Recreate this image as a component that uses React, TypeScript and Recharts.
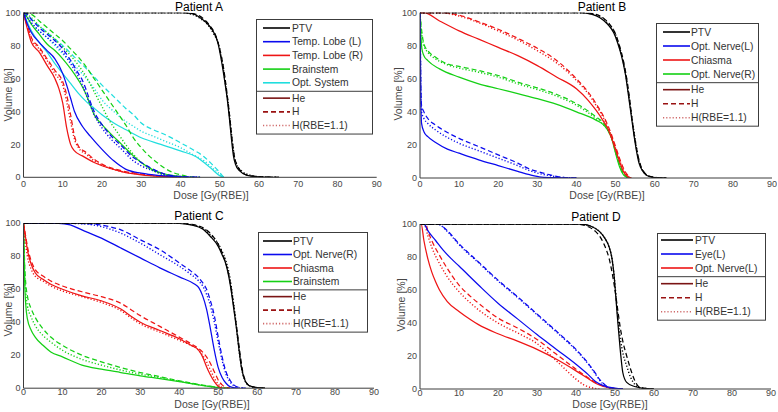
import React from "react";
import { LineChart, Line, XAxis, YAxis } from "recharts";

type Pt = [number, number];

const doseTicks = [0, 10, 20, 30, 40, 50, 60, 70, 80, 90];
const volTicks = [0, 20, 40, 60, 80, 100];
const modalities = ["He", "H", "H(RBE=1.1)"];

// ---- Patient A
const A_ptv_he: Pt[] = [[0,100],[40,100],[43,99.5],[45,97],[47,93],[48.5,88],[49.5,82],[50.5,70],[51.3,58],[52,46],[52.5,35],[53,23],[53.5,13],[54,8],[55,4],[57,1.2],[60,0.3],[65,0]];
const A_ptv_h: Pt[] = [[0,100],[41,100],[44,99],[46,96],[47.5,92],[49,86],[50,78],[51,66],[51.7,54],[52.3,42],[52.8,31],[53.3,20],[53.8,12],[54.5,7],[55.5,3.5],[57.5,1],[61,0.3],[65,0]];
const A_ptv_rbe: Pt[] = [[0,100],[40,100],[43,99],[45,96.5],[47,92.5],[48.5,87],[49.8,80],[50.8,68],[51.5,56],[52.2,44],[52.7,33],[53.2,22],[53.7,13],[54.3,8],[55.5,4],[57.5,1.5],[60,0.4],[65,0]];
const A_tll_he: Pt[] = [[0,100],[1,93],[2,88],[4,82],[6,77],[8,72],[10,63],[11,56],[12,48],[13,40],[15,31],[17,25],[20,17],[23,10],[26,5],[30,2.5],[35,1],[40,0.3],[45,0]];
const A_tll_h: Pt[] = [[0,100],[1,99],[2,96],[4,91],[6,87],[8,83],[10,78],[12,71],[14,63],[15,59],[16,53],[17,46],[18,40],[20,32],[22,26],[25,19],[28,12],[30,9],[33,5],[36,2],[40,0.5],[45,0]];
const A_tll_rbe: Pt[] = [[0,100],[1,97],[2,94],[4,89],[6,85],[8,81],[10,76],[12,69],[14,61],[15,56],[16,50],[17,44],[18,38],[20,30],[22,24],[25,17],[28,10],[30,7],[33,4],[36,1.5],[40,0.3],[45,0]];
const A_tlr_he: Pt[] = [[0,100],[1,90],[2,82],[4,76],[6,68],[8,60],[9,54],[10,45],[11,30],[12,20],[13,16],[15,13],[18,9],[20,7],[25,3.5],[30,1.5],[35,0.5],[40,0]];
const A_tlr_h: Pt[] = [[0,100],[1,92],[2,85],[4,79],[6,72],[8,65],[10,58],[11,50],[12,38],[13,25],[14,19],[16,15],[18,11],[20,8],[25,4],[30,2],[35,0.8],[40,0]];
const A_tlr_rbe: Pt[] = [[0,100],[1,91],[2,84],[4,78],[6,71],[8,63],[10,56],[11,46],[12,34],[13,23],[14,18],[16,14],[18,10],[20,7.5],[25,3.5],[30,1.8],[35,0.6],[40,0]];
const A_bs_he: Pt[] = [[0,100],[1,97],[2,93],[4,87],[6,81],[8,77],[10,72],[12,66],[14,59],[15,55],[16,50],[17,44],[18,38],[20,32],[22,27],[25,20],[28,13],[30,9],[33,4.5],[36,2],[40,0.5],[42,0]];
const A_bs_h: Pt[] = [[0,100],[2,99],[4,95],[6,91],[8,87],[10,83],[12,78],[14,73],[16,67],[18,60],[20,53],[22,46],[24,39],[26,32],[28,24],[30,18],[32,13],[34,9],[36,5.5],[38,3],[40,1.5],[42,0.5],[45,0]];
const A_bs_rbe: Pt[] = [[0,100],[2,97],[4,92],[6,88],[8,84],[10,79],[12,74],[14,68],[16,61],[18,52],[20,43],[22,34],[24,27],[26,20],[28,14],[30,9],[33,4],[36,1.5],[40,0.3],[42,0]];
const A_os_he: Pt[] = [[0,100],[1,94],[2,89],[4,82],[6,76],[8,69],[10,63],[12,57],[14,51],[16,46],[18,42],[20,38],[23,33],[26,29],[30,24],[35,20],[40,16],[44,12.5],[46,9],[48,5],[50,1],[51,0]];
const A_os_h: Pt[] = [[0,100],[1,98],[3,94],[5,90],[8,84],[10,80],[13,73],[16,66],[18,61],[20,56],[23,49],[26,42],[28,38],[30,33],[33,29],[36,26],[40,21],[43,17],[46,12.5],[48,8],[50,3],[51,0]];
const A_os_rbe: Pt[] = [[0,100],[1,96],[3,91],[5,87],[8,80],[10,75],[13,68],[16,60],[18,54],[20,47],[23,40],[26,34],[28,31],[30,28],[33,25],[36,22],[40,18],[43,14],[46,10],[48,6],[50,2],[51,0]];

// ---- Patient B
const B_ptv_he: Pt[] = [[0,100],[41,100],[44,99],[46,97],[48,93],[49.5,88],[50.5,82],[51.5,74],[52.5,63],[53.3,50],[54,38],[54.7,26],[55.3,17],[56,9],[57,4],[58,1.5],[60,0.3],[63,0]];
const B_ptv_h: Pt[] = [[0,100],[42,100],[45,99],[47,96.5],[48.5,93],[50,87],[51,80],[52,71],[53,58],[53.7,46],[54.3,34],[55,23],[55.7,14],[56.5,7],[57.5,3],[58.5,1.2],[60.5,0.3],[63,0]];
const B_ptv_rbe: Pt[] = [[0,100],[41,100],[44.5,99],[46.5,97],[48,93.5],[49.8,88],[50.8,81],[51.8,72],[52.8,60],[53.5,48],[54.2,36],[54.9,25],[55.5,16],[56.2,8.5],[57.2,3.5],[58.3,1.3],[60,0.3],[63,0]];
const B_onl_he: Pt[] = [[0,100],[0.1,75],[0.2,50],[0.4,33],[1,28],[2,25],[4,21.5],[7,17.5],[10,15],[15,11],[20,7.5],[25,4],[28,2],[31,0.6],[35,0.2],[40,0]];
const B_onl_h: Pt[] = [[0,100],[0.1,80],[0.2,55],[0.4,44],[1,40],[2,36],[4,32],[7,27.5],[10,24],[15,19],[20,14],[25,9],[28,5.5],[30,4],[33,2],[36,0.5],[40,0]];
const B_onl_rbe: Pt[] = [[0,100],[0.1,78],[0.2,52],[0.4,40],[1,36],[2,33],[4,29],[7,24.5],[10,21],[15,16.5],[20,12],[25,7.5],[28,4.5],[30,3],[33,1.5],[36,0.4],[40,0]];
const B_chi_he: Pt[] = [[0,100],[1,100],[5,95],[10,89],[15,84],[20,79],[25,74],[30,68],[35,61],[40,54],[43,47],[45,41],[47,34],[48,30],[49,24],[50,17],[51,10],[52,4],[53,1],[54,0]];
const B_chi_h: Pt[] = [[0,100],[6,100],[10,98.5],[15,94.5],[20,90],[25,84.5],[30,78.5],[35,71],[40,60],[43,52],[45,45],[47,37],[48,32],[49,26],[50,19],[51,12],[52,6],[53,2],[54,0]];
const B_chi_rbe: Pt[] = [[0,100],[5,100],[10,98],[15,94],[20,89],[25,83.5],[30,77],[35,69.5],[40,59],[43,51],[45,44],[47,36],[48,31],[49,25],[50,18],[51,11],[52,5],[53,1.5],[54,0]];
const B_onr_he: Pt[] = [[0,100],[0.2,88],[0.5,78],[1,74],[2,71],[5,66],[10,61],[15,57],[20,54],[25,51],[30,48],[35,44.5],[40,40],[45,35],[47,32],[48,29],[49,24],[50,15],[51,7],[52,2],[53,0.3],[54,0]];
const B_onr_h: Pt[] = [[0,100],[0.3,92],[0.6,86],[1,81],[2,77],[4,73],[7,69],[10,67.5],[15,65],[20,62],[25,58],[30,54.5],[35,50.5],[40,45],[45,37],[47,33],[48,29.5],[49,24],[50,16],[51,8.5],[52,3],[53,0.5],[54,0]];
const B_onr_rbe: Pt[] = [[0,100],[0.3,90],[0.6,84],[1,80],[2,76],[4,72],[7,68.5],[10,66.5],[15,64],[20,61],[25,57],[30,53.5],[35,49.5],[40,44],[45,36],[47,32],[48,29],[49,24],[50,16],[51,8],[52,2.5],[53,0.5],[54,0]];

// ---- Patient C
const C_ptv_he: Pt[] = [[0,100],[40,100],[43,99],[46,96.5],[48,92],[50,86],[51,81],[52,75],[53,64],[54,48],[54.7,36],[55.3,24],[56,12],[57,4],[58,1.5],[60,0.4],[62,0]];
const C_ptv_h: Pt[] = [[0,100],[41,100],[44,99],[47,96],[49,91],[50.5,85],[51.5,79],[52.5,71],[53.5,58],[54.3,44],[55,32],[55.6,21],[56.3,10],[57.2,3.5],[58.2,1.2],[60,0.3],[62,0]];
const C_ptv_rbe: Pt[] = [[0,100],[40,100],[43,99.2],[46,97],[48,93],[50,87.5],[51,83],[52,77],[53,67],[53.8,54],[54.5,41],[55.1,28],[55.8,15],[56.7,5.5],[57.7,2],[59.5,0.5],[62,0]];
const C_onr_he: Pt[] = [[0,100],[9,100],[12,99],[15,96],[20,91],[25,85],[30,79],[35,73],[40,67.5],[44,63],[45,61],[46,56],[47,48],[48,36],[49,23],[50,12.5],[51,6.5],[52,3],[53,1],[55,0]];
const C_onr_h: Pt[] = [[0,100],[12,100],[18,99.5],[22,98],[25,96],[30,90],[35,84],[40,76],[43,71],[45,67],[46,64],[47,60],[48,53],[49,44],[50,31],[51,19],[52,10],[53,5],[54,2],[55,0.7],[57,0]];
const C_onr_rbe: Pt[] = [[0,100],[11,100],[16,99.5],[20,98],[25,94],[30,88],[35,81],[40,74],[43,69],[45,65],[46,62],[47,57],[48,50],[49,40],[50,28],[51,17],[52,8.5],[53,4],[54,1.5],[55,0.5],[57,0]];
const C_chi_he: Pt[] = [[0,100],[0.5,92],[1,84],[2,75],[3,70],[5,66],[7,63],[10,60],[15,56],[20,53],[25,48],[28,43],[30,40],[35,35],[40,30],[43,26],[45,23],[46,19],[47,13],[48,8],[49,4],[50,1.2],[51,0]];
const C_chi_h: Pt[] = [[0,100],[0.5,93],[1,86],[2,77],[3,72],[5,68],[7,65],[10,62],[15,58.5],[20,55.5],[25,51.5],[28,47],[30,44],[35,37.5],[40,31],[43,27],[45,24],[47,19],[48,15],[49,10],[50,5],[51,2],[52,0.5],[53,0]];
const C_chi_rbe: Pt[] = [[0,100],[0.5,88],[1,80],[2,72],[3,68],[5,65],[7,62],[10,59],[15,55.5],[20,52],[25,47],[28,42],[30,39],[35,34],[40,29],[43,26],[45,23],[46,20],[47,16],[48,11],[49,6],[50,2.5],[51,0.5],[52,0]];
const C_bs_he: Pt[] = [[0,100],[0.1,90],[0.3,65],[0.6,50],[1,42],[2,35],[3,31],[5,26],[7,22],[10,19],[15,14],[20,11.5],[25,9.5],[30,7.5],[35,5.8],[40,4],[45,2],[48,1],[50,0.3],[52,0]];
const C_bs_h: Pt[] = [[0,100],[0.1,92],[0.3,75],[0.6,63],[1,56],[2,48],[3,43],[5,36],[7,31],[10,26],[15,20],[20,16],[25,12.5],[30,9.5],[35,7],[40,4.5],[45,2.3],[48,1.2],[50,0.5],[53,0]];
const C_bs_rbe: Pt[] = [[0,100],[0.1,91],[0.3,70],[0.6,57],[1,50],[2,43],[3,38],[5,32],[7,28],[10,23],[15,17.5],[20,14],[25,11],[30,8.5],[35,6.5],[40,4.2],[45,2.1],[48,1],[50,0.4],[53,0]];

// ---- Patient D
const D_ptv_he: Pt[] = [[0,100],[41,100],[44,98.5],[46,95.5],[47.5,91],[48.5,86],[49.3,78],[49.8,68],[50.2,56],[50.6,44],[51,33],[51.5,20],[52,10],[53,4],[55,1.5],[57,0.5],[60,0]];
const D_ptv_h: Pt[] = [[0,100],[40,100],[43,98.5],[45,95.5],[46.5,91],[47.5,86],[48.5,79],[49.3,70],[50,60],[50.7,48],[51.3,38],[52,29],[53,20],[54,12],[55,5.5],[56,1.6],[57,0.5],[60,0]];
const D_ptv_rbe: Pt[] = [[0,100],[41,100],[44,98.5],[46,95.5],[47.5,91],[48.5,86],[49.3,78],[49.8,68],[50.3,55],[50.8,42],[51.4,30],[52,22],[53,14],[54,7],[55,3],[56,1],[58,0.3],[60,0]];
const D_eye_he: Pt[] = [[0,100],[1,100],[2,96],[4,90],[6,84],[8,79],[10,74.5],[15,63],[20,52],[25,42.5],[30,33],[35,24],[40,15],[43,9],[45,4.5],[47,2],[50,0.5],[52,0]];
const D_eye_h: Pt[] = [[0,100],[4.5,100],[7,96],[10,88],[15,77],[20,66],[25,56],[30,45.5],[35,35],[40,24],[43,16],[45,9.5],[46,6],[47,3.5],[48,1.5],[50,0.3],[52,0]];
const D_eye_rbe: Pt[] = [[0,100],[4.5,100],[7,95.5],[10,87.5],[15,76.5],[20,65.5],[25,55.5],[30,45],[35,34.5],[40,23.5],[43,15.5],[45,9],[46,5.5],[47,3],[48,1.2],[50,0.2],[52,0]];
const D_onl_he: Pt[] = [[0,100],[0.3,100],[1,90],[2,79],[3,71],[4,65],[5,60],[7,53],[10,47],[13,42],[15,39],[20,33.5],[25,29],[30,24],[35,18],[40,11],[43,6.5],[45,3.5],[47,1.5],[50,0.3],[52,0]];
const D_onl_h: Pt[] = [[0,100],[1.5,100],[2,96],[3,90],[5,81],[7,73],[10,63],[13,56],[15,52],[20,43],[25,37],[30,30],[35,21],[40,12],[43,7],[45,4],[47,1.8],[50,0.3],[52,0]];
const D_onl_rbe: Pt[] = [[0,100],[1,100],[2,93],[3,86],[5,76],[7,68],[10,59],[13,52],[15,48],[20,40],[25,34],[30,27.5],[35,17],[40,6],[42,2.5],[44,0.8],[46,0]];

const BLACK = "#000000";
const BLUE = "#0a0aee";
const RED = "#ee1515";
const GREEN = "#15d015";
const CYAN = "#20dede";
const BOX = "#3c3c3c";
const TXT = "#474747";
const DASH = [undefined, "5 3", "1.2 2"];
const MOD_COLORS = ["#7a1414", "#9a1212", "#d06a6a"];

type Struct = { name: string; color: string; curves: Pt[][] };
type PanelDef = {
  title: string;
  left: number;
  top: number;
  margin: { top: number; right: number; bottom: number; left: number };
  tickGap: number;
  structs: Struct[];
  titleX: number;
  titleY: number;
  volX: number;
  volY: number;
  doseX: number;
  doseY: number;
  legend: { x: number; y: number; w: number; rh: number; pad: number; lx0: number; lx1: number; tx: number };
};

const panels: PanelDef[] = [
  {
    title: "Patient A", left: 0, top: 0,
    margin: { top: 12.7, right: 12.3, bottom: 8.7, left: 3.5 }, tickGap: 3,
    structs: [
      { name: "PTV", color: BLACK, curves: [A_ptv_he, A_ptv_h, A_ptv_rbe] },
      { name: "Temp. Lobe (L)", color: BLUE, curves: [A_tll_he, A_tll_h, A_tll_rbe] },
      { name: "Temp. Lobe (R)", color: RED, curves: [A_tlr_he, A_tlr_h, A_tlr_rbe] },
      { name: "Brainstem", color: GREEN, curves: [A_bs_he, A_bs_h, A_bs_rbe] },
      { name: "Opt. System", color: CYAN, curves: [A_os_he, A_os_h, A_os_rbe] },
    ],
    titleX: 199, titleY: 11, volX: 8, volY: 95, doseX: 211, doseY: 199,
    legend: { x: 256, y: 19, w: 116, rh: 13.7, pad: 9, lx0: 7, lx1: 34, tx: 36 },
  },
  {
    title: "Patient B", left: 388, top: 0,
    margin: { top: 12.7, right: 5, bottom: 8, left: 12 }, tickGap: 3,
    structs: [
      { name: "PTV", color: BLACK, curves: [B_ptv_he, B_ptv_h, B_ptv_rbe] },
      { name: "Opt. Nerve(L)", color: BLUE, curves: [B_onl_he, B_onl_h, B_onl_rbe] },
      { name: "Chiasma", color: RED, curves: [B_chi_he, B_chi_h, B_chi_rbe] },
      { name: "Opt. Nerve(R)", color: GREEN, curves: [B_onr_he, B_onr_h, B_onr_rbe] },
    ],
    titleX: 214, titleY: 11, volX: 10, volY: 94, doseX: 219, doseY: 199,
    legend: { x: 268, y: 23, w: 102, rh: 14, pad: 9, lx0: 7, lx1: 34, tx: 35 },
  },
  {
    title: "Patient C", left: 0, top: 206,
    margin: { top: 17.3, right: 15, bottom: 3.8, left: 3.5 }, tickGap: 0.5,
    structs: [
      { name: "PTV", color: BLACK, curves: [C_ptv_he, C_ptv_h, C_ptv_rbe] },
      { name: "Opt. Nerve(R)", color: BLUE, curves: [C_onr_he, C_onr_h, C_onr_rbe] },
      { name: "Chiasma", color: RED, curves: [C_chi_he, C_chi_h, C_chi_rbe] },
      { name: "Brainstem", color: GREEN, curves: [C_bs_he, C_bs_h, C_bs_rbe] },
    ],
    titleX: 199, titleY: 13.5, volX: 8, volY: 104, doseX: 212, doseY: 201.5,
    legend: { x: 258, y: 26, w: 109, rh: 13.5, pad: 9, lx0: 5, lx1: 34, tx: 35 },
  },
  {
    title: "Patient D", left: 388, top: 206,
    margin: { top: 18, right: 6, bottom: 3, left: 12 }, tickGap: 0.5,
    structs: [
      { name: "PTV", color: BLACK, curves: [D_ptv_he, D_ptv_h, D_ptv_rbe] },
      { name: "Eye(L)", color: BLUE, curves: [D_eye_he, D_eye_h, D_eye_rbe] },
      { name: "Opt. Nerve(L)", color: RED, curves: [D_onl_he, D_onl_h, D_onl_rbe] },
    ],
    titleX: 208, titleY: 14.5, volX: 13, volY: 99, doseX: 222, doseY: 202,
    legend: { x: 269, y: 27, w: 108, rh: 14, pad: 7, lx0: 4, lx1: 36, tx: 38 },
  },
];

const toRows = (pts: Pt[]) => pts.map(([d, v]) => ({ d, v }));

const FONT = "'Liberation Sans', Arial, Helvetica, sans-serif";
const W = 389;
const H = 206;

function Legend({ p }: { p: PanelDef }) {
  const L = p.legend;
  const n = p.structs.length;
  const divY = L.pad + (n - 1) * L.rh + L.rh * 0.62;
  const g2 = divY + L.rh * 0.5;
  const hgt = g2 + 2 * L.rh + 8;
  return (
    <g transform={`translate(${L.x},${L.y})`}>
      <rect x={0.5} y={0.5} width={L.w} height={hgt} fill="#fff" stroke={BOX} strokeWidth={1} />
      {p.structs.map((s, i) => {
        const y = L.pad + i * L.rh;
        return (
          <g key={s.name}>
            <line x1={L.lx0} x2={L.lx1} y1={y} y2={y} stroke={s.color} strokeWidth={1.6} />
            <text x={L.tx} y={y} dominantBaseline="central" fontSize={10.3} fill="#333">{s.name}</text>
          </g>
        );
      })}
      <line x1={0.5} x2={L.w + 0.5} y1={divY} y2={divY} stroke={BOX} strokeWidth={1} />
      {modalities.map((m, j) => {
        const y = g2 + j * L.rh;
        return (
          <g key={m}>
            <line x1={L.lx0} x2={L.lx1} y1={y} y2={y} stroke={MOD_COLORS[j]} strokeWidth={1.6} strokeDasharray={DASH[j]} />
            <text x={L.tx} y={y} dominantBaseline="central" fontSize={10.3} fill="#333">{m}</text>
          </g>
        );
      })}
    </g>
  );
}

function Panel({ p }: { p: PanelDef }) {
  const axisTick = { fontSize: 9, fill: TXT, fontFamily: FONT };
  return (
    <div style={{ position: "absolute", left: p.left, top: p.top, width: W, height: H }}>
      <LineChart width={W} height={H} margin={p.margin} style={{ fontFamily: FONT }}>
        <XAxis xAxisId="x" type="number" dataKey="d" domain={[0, 90]} ticks={doseTicks} interval={0}
          height={20} tickLine={false} tickSize={0} tickMargin={p.tickGap} tick={axisTick}
          axisLine={{ stroke: BOX }} allowDataOverflow />
        <XAxis xAxisId="xi" type="number" dataKey="d" domain={[0, 90]} ticks={doseTicks} interval={0}
          height={0} mirror tick={false} tickSize={3} tickLine={{ stroke: BOX }} axisLine={false} />
        <XAxis xAxisId="xt" orientation="top" type="number" dataKey="d" domain={[0, 90]} ticks={doseTicks} interval={0}
          height={0} mirror tick={false} tickSize={3} tickLine={{ stroke: BOX }} axisLine={{ stroke: BOX }} />
        <YAxis yAxisId="y" type="number" domain={[0, 100]} ticks={volTicks} interval={0}
          width={20} tickLine={false} tickSize={0} tickMargin={3} tick={axisTick}
          axisLine={{ stroke: BOX }} allowDataOverflow />
        <YAxis yAxisId="yi" type="number" domain={[0, 100]} ticks={volTicks} interval={0}
          width={0} mirror tick={false} tickSize={3} tickLine={{ stroke: BOX }} axisLine={false} />
        <YAxis yAxisId="yr" orientation="right" type="number" domain={[0, 100]} ticks={volTicks} interval={0}
          width={0} mirror tick={false} tickSize={3} tickLine={{ stroke: BOX }} axisLine={{ stroke: BOX }} />
        {[...p.structs].reverse().flatMap((s) =>
          [2, 1, 0].map((m) => (
            <Line
              key={`${s.name}-${m}`}
              data={toRows(s.curves[m])}
              dataKey="v"
              xAxisId="x"
              yAxisId="y"
              type="monotone"
              stroke={s.color}
              strokeWidth={m === 2 ? 1.4 : 1.25}
              strokeDasharray={DASH[m]}
              dot={false}
              activeDot={false}
              isAnimationActive={false}
            />
          ))
        )}
      </LineChart>
      <svg width={W} height={H} style={{ position: "absolute", left: 0, top: 0, pointerEvents: "none", fontFamily: FONT }}>
        <text x={p.titleX} y={p.titleY} textAnchor="middle" fontSize={12} fill="#000">{p.title}</text>
        <text x={p.volX} y={p.volY} textAnchor="middle" dominantBaseline="central" fontSize={10.5} fill={TXT}
          transform={`rotate(-90 ${p.volX} ${p.volY})`}>Volume [%]</text>
        <text x={p.doseX} y={p.doseY} textAnchor="middle" fontSize={10.5} fill={TXT}>Dose [Gy(RBE)]</text>
        <Legend p={p} />
      </svg>
    </div>
  );
}

export default function App() {
  return (
    <div style={{ position: "absolute", left: 0, top: 0, width: 778, height: 412, background: "#fff", fontFamily: FONT }}>
      {panels.map((p) => (
        <Panel key={p.title} p={p} />
      ))}
    </div>
  );
}
